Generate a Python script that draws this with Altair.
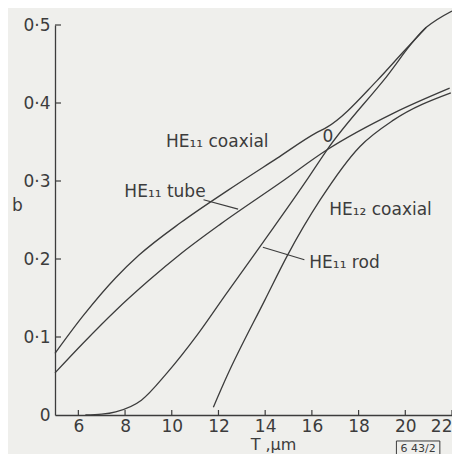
import altair as alt
import pandas as pd

# ---- data ----
coax11_T = [5.0, 6.2, 7.6, 8.6, 10.4, 12.4, 14.5, 16.2, 16.65, 18.8, 19.9, 20.9]
coax11_b = [0.079, 0.127, 0.176, 0.205, 0.247, 0.288, 0.329, 0.362, 0.369, 0.429, 0.465, 0.497]

tube11_T = [5.0, 6.2, 7.6, 9.0, 10.4, 12.1, 14.66, 16.65, 19.5, 21.9]
tube11_b = [0.054, 0.092, 0.134, 0.172, 0.207, 0.245, 0.298, 0.340, 0.387, 0.419]

rod11_T = [6.3, 7.0, 7.6, 8.7, 9.8, 11.1, 12.3, 13.9, 15.8, 16.65, 19.07, 20.9, 22.0]
rod11_b = [0.0, 0.001, 0.004, 0.019, 0.054, 0.103, 0.154, 0.221, 0.302, 0.340, 0.429, 0.497, 0.518]

coax12_T = [11.78, 12.35, 13.98, 14.96, 16.36, 18.05, 19.49, 21.95]
coax12_b = [0.010, 0.049, 0.147, 0.205, 0.276, 0.344, 0.378, 0.413]

x_ticks = [6, 8, 10, 12, 14, 16, 18, 20, 22]
y_ticks = [0.1, 0.2, 0.3, 0.4, 0.5]

labels = ["HE\u2081\u2081 coaxial", "HE\u2081\u2081 tube", "HE\u2081\u2082 coaxial", "HE\u2081\u2081 rod", "0"]

# ---- annotation placement (data coordinates) ----
label_T = [9.75, 7.97, 16.74, 15.89, 16.45]
label_b = [0.350, 0.286, 0.263, 0.195, 0.356]
leader_T = [11.36, 13.90]
leader_b = [0.276, 0.215]
leader_T2 = [12.84, 15.68]
leader_b2 = [0.264, 0.199]

INK = "#3c3c3c"
BG = "#efefec"
FONT = "DejaVu Sans"

rows = []
for name, T, b in [("HE11 coaxial", coax11_T, coax11_b), ("HE11 tube", tube11_T, tube11_b),
                   ("HE11 rod", rod11_T, rod11_b), ("HE12 coaxial", coax12_T, coax12_b)]:
    for i, (t, v) in enumerate(zip(T, b)):
        rows.append({"curve": name, "T": t, "b": v, "i": i})
df = pd.DataFrame(rows)

xscale = alt.Scale(domain=[5, 22], nice=False, zero=False)
yscale = alt.Scale(domain=[0, 0.5], nice=False)

W, H = 397, 390

lines = alt.Chart(df).mark_line(color=INK, strokeWidth=1.3, interpolate="monotone").encode(
    x=alt.X("T:Q", scale=xscale,
            axis=alt.Axis(values=x_ticks, ticks=False, grid=False, labelFontSize=17, labelFont=FONT,
                          labelColor=INK, labelPadding=3, domainColor=INK, domainWidth=1.3,
                          title="T ,\u03bcm", titleFont=FONT, titleFontSize=16, titleFontWeight="normal",
                          titleColor=INK, titleX=218, titleY=29, titleBaseline="middle", titleAlign="center",
                          labelFlush=True)),
    y=alt.Y("b:Q", scale=yscale,
            axis=alt.Axis(values=[0, 0.1, 0.2, 0.3, 0.4, 0.5], ticks=False, grid=False, labelFontSize=17,
                          labelFont=FONT, labelColor=INK, labelPadding=5, domainColor=INK, domainWidth=1.3,
                          labelExpr="datum.value == 0 ? '0' : replace(format(datum.value, '.1f'), '.', '\u00b7')",
                          title="b", titleFont=FONT, titleFontSize=17, titleFontWeight="normal", titleColor=INK,
                          titleAngle=0, titleX=-38, titleY=180, titleAlign="center", titleBaseline="middle",
                          labelFlush=False)),
    detail="curve:N",
    order="i:Q",
)

xt = alt.Chart(pd.DataFrame({"T": x_ticks})).mark_rule(color=INK, strokeWidth=1.2).encode(
    x=alt.X("T:Q", scale=xscale), y=alt.value(H), y2=alt.value(H - 5))
yt = alt.Chart(pd.DataFrame({"b": y_ticks})).mark_rule(color=INK, strokeWidth=1.2).encode(
    y=alt.Y("b:Q", scale=yscale), x=alt.value(0), x2=alt.value(6))

ann = pd.DataFrame({"t": labels, "T": label_T, "b": label_b})
texts = alt.Chart(ann).mark_text(font=FONT, fontSize=17, color=INK, align="left", baseline="middle").encode(
    x=alt.X("T:Q", scale=xscale), y=alt.Y("b:Q", scale=yscale), text="t:N")

lead = pd.DataFrame({"T": leader_T, "b": leader_b, "T2": leader_T2, "b2": leader_b2})
leaders = alt.Chart(lead).mark_rule(color=INK, strokeWidth=1.2).encode(
    x=alt.X("T:Q", scale=xscale), y=alt.Y("b:Q", scale=yscale), x2="T2:Q", y2="b2:Q")

box_df = pd.DataFrame({"T": [19.62], "T2": [21.48], "b": [-0.0333], "b2": [-0.0538], "tc": [20.55], "bc": [-0.0436], "t": ["6 43/2"]})
box = alt.Chart(box_df).mark_rect(fill=BG, stroke=INK, strokeWidth=1, clip=False).encode(
    x=alt.X("T:Q", scale=xscale), x2="T2:Q", y=alt.Y("b:Q", scale=yscale), y2="b2:Q")
box_t = alt.Chart(box_df).mark_text(font=FONT, fontSize=11, color=INK, align="center", baseline="middle").encode(
    x=alt.X("tc:Q", scale=xscale), y=alt.Y("bc:Q", scale=yscale), text="t:N")

chart = alt.layer(lines, xt, yt, leaders, texts, box, box_t).properties(
    width=W, height=H,
    autosize=alt.AutoSizeParams(type="none"),
    padding={"left": 47, "top": 17, "right": 0, "bottom": 39},
    background=BG,
).configure_view(stroke=None)

chart.save("out.html", embed_options={"renderer": "svg", "actions": False})
